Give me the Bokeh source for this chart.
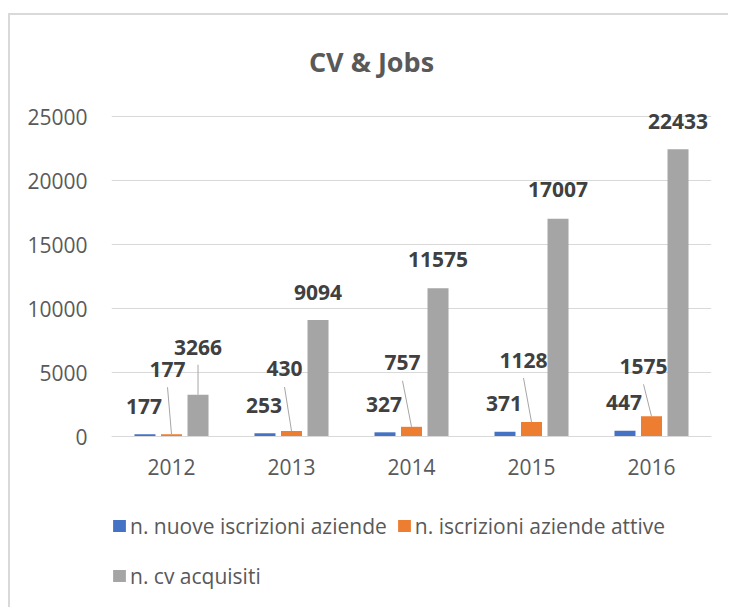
from bokeh.plotting import figure
from bokeh.models import (ColumnDataSource, FactorRange, Range1d, FixedTicker,
                          LabelSet, Label, Legend, LegendItem)
from bokeh.transform import dodge
from bokeh.core.properties import value
from bokeh.embed import file_html
from bokeh.resources import INLINE

# ---------------- data ----------------
years = ["2012", "2013", "2014", "2015", "2016"]
nuove_iscrizioni = [177, 253, 327, 371, 447]
iscrizioni_attive = [177, 430, 757, 1128, 1575]
cv_acquisiti = [3266, 9094, 11575, 17007, 22433]
y_ticks = [0, 5000, 10000, 15000, 20000, 25000]
series_names = ["n. nuove iscrizioni aziende", "n. iscrizioni aziende attive", "n. cv acquisiti"]
title_text = "CV & Jobs"

# ---------------- style / layout (pixels on the page) ----------------
COLORS = ["#4472C4", "#ED7D31", "#A5A5A5"]
FONT = "Open Sans"
W, H = 720, 594
CANVAS_TOP = 15                 # 13px margin + 2px border
ZERO_Y, TOP_GRID_Y = 436, 116   # where 0 and 25000 sit on the page
Y_MAX = 25000
UNITS_PER_PX = Y_MAX / (ZERO_Y - TOP_GRID_Y)
Y_END = (ZERO_Y - CANVAS_TOP) * UNITS_PER_PX
Y_START = -(CANVAS_TOP + H - ZERO_Y) * UNITS_PER_PX
FRAME_W = 600
PX_PER_CAT = FRAME_W / len(years)
BAR_W = 0.175
OFFS = [-0.221, 0.0, 0.221]

# label placement, screen px relative to the bar top centre (up = positive)
blue_dx = [-1, -1, -1, -1, -1]
blue_dy = [28, 28, 28, 28, 28]
orange_dx = [-4, -7, -9, -8, -8]
orange_dy = [65, 62, 64, 62, 50]
gray_dx = [0, 0, 0, 0, 0]
gray_dy = [47, 28, 29, 29, 28]
LEADER_GAP = 18
TITLE_X_PX, TITLE_Y_PX = 371, 61
LEGEND_TOP_PX = 505

p = figure(x_range=FactorRange(*years, range_padding=0), y_range=Range1d(Y_START, Y_END),
           width=W, height=H, output_backend="svg", toolbar_location=None, title=None,
           min_border_left=101, min_border_right=W - 101 - FRAME_W,
           min_border_top=0, min_border_bottom=0)
p.styles = {"border-left": "2px solid #d9d9d9", "border-top": "2px solid #d9d9d9"}
p.margin = (13, 0, 0, 8)
p.outline_line_color = None
p.background_fill_color = "white"
p.border_fill_color = "white"

src = ColumnDataSource(dict(
    year=years, nuove=nuove_iscrizioni, attive=iscrizioni_attive, cv=cv_acquisiti,
    blue_lbl=[str(v) for v in nuove_iscrizioni],
    orange_lbl=[str(v) for v in iscrizioni_attive],
    gray_lbl=[str(v) for v in cv_acquisiti],
    bdx=blue_dx, bdy=blue_dy, odx=orange_dx, ody=orange_dy, gdx=gray_dx, gdy=gray_dy,
))

renderers = []
for key, off, col in zip(["nuove", "attive", "cv"], OFFS, COLORS):
    r = p.vbar(x=dodge("year", off, range=p.x_range), top=key, width=BAR_W,
               source=src, fill_color=col, line_color=None)
    renderers.append(r)

# leader lines (orange labels and the first grey label)
lx0, ly0, lx1, ly1 = [], [], [], []
for i, v in enumerate(iscrizioni_attive):
    c = i + 0.5 + OFFS[1]
    lx0.append(c + orange_dx[i] / PX_PER_CAT)
    ly0.append(v + (orange_dy[i] - LEADER_GAP) * UNITS_PER_PX)
    lx1.append(c)
    ly1.append(v)
c = 0.5 + OFFS[2]
lx0.append(c); ly0.append(cv_acquisiti[0] + (gray_dy[0] - 17) * UNITS_PER_PX)
lx1.append(c); ly1.append(cv_acquisiti[0])
p.segment(x0=lx0, y0=ly0, x1=lx1, y1=ly1, line_color="#a6a6a6", line_width=1)

for key, y_key, off, dx, dy in [("blue_lbl", "nuove", OFFS[0], "bdx", "bdy"),
                                ("orange_lbl", "attive", OFFS[1], "odx", "ody"),
                                ("gray_lbl", "cv", OFFS[2], "gdx", "gdy")]:
    ls = LabelSet(x=dodge("year", off, range=p.x_range), y=y_key, text=key,
                  x_offset=dx, y_offset=dy, source=src,
                  text_font=value(FONT), text_font_size=value("21px"),
                  text_font_style=value("bold"),
                  text_color=value("#404040"), text_align=value("center"),
                  text_baseline=value("middle"))
    p.add_layout(ls)

# title (inside the extended frame)
p.add_layout(Label(x=(TITLE_X_PX - 111) / PX_PER_CAT, y=(ZERO_Y - TITLE_Y_PX) * UNITS_PER_PX,
                   text=title_text, text_font=FONT, text_font_size="27px",
                   text_font_style="bold", text_color="#595959",
                   text_align="center", text_baseline="middle"))

# axes & grid
p.yaxis.ticker = FixedTicker(ticks=y_ticks)
p.yaxis.axis_line_color = None
p.yaxis.major_tick_line_color = None
p.yaxis.minor_tick_line_color = None
p.yaxis.major_label_standoff = 18
p.xaxis.fixed_location = 0
p.xaxis.axis_line_color = "#d9d9d9"
p.xaxis.major_tick_line_color = None
p.xaxis.minor_tick_line_color = None
p.xaxis.major_label_standoff = 16
for ax in (p.xaxis, p.yaxis):
    ax.major_label_text_font = FONT
    ax.major_label_text_font_size = "21px"
    ax.major_label_text_color = "#595959"
p.xgrid.grid_line_color = None
p.ygrid.grid_line_color = "#d9d9d9"
p.ygrid.grid_line_width = 1

LEG_H = 2 * 41 + 9
legend = Legend(items=[LegendItem(label=n, renderers=[r]) for n, r in zip(series_names, renderers)],
                location=(0, (CANVAS_TOP + H) - LEGEND_TOP_PX - LEG_H),
                orientation="horizontal", ncols=2,
                label_text_font=FONT, label_text_font_size="21px", label_text_color="#595959",
                glyph_width=16, glyph_height=15, label_standoff=3, spacing=9,
                label_height=41, padding=0, margin=0,
                border_line_color=None, background_fill_alpha=0)
p.add_layout(legend, "center")

open("out.html", "w").write(file_html(p, INLINE))
